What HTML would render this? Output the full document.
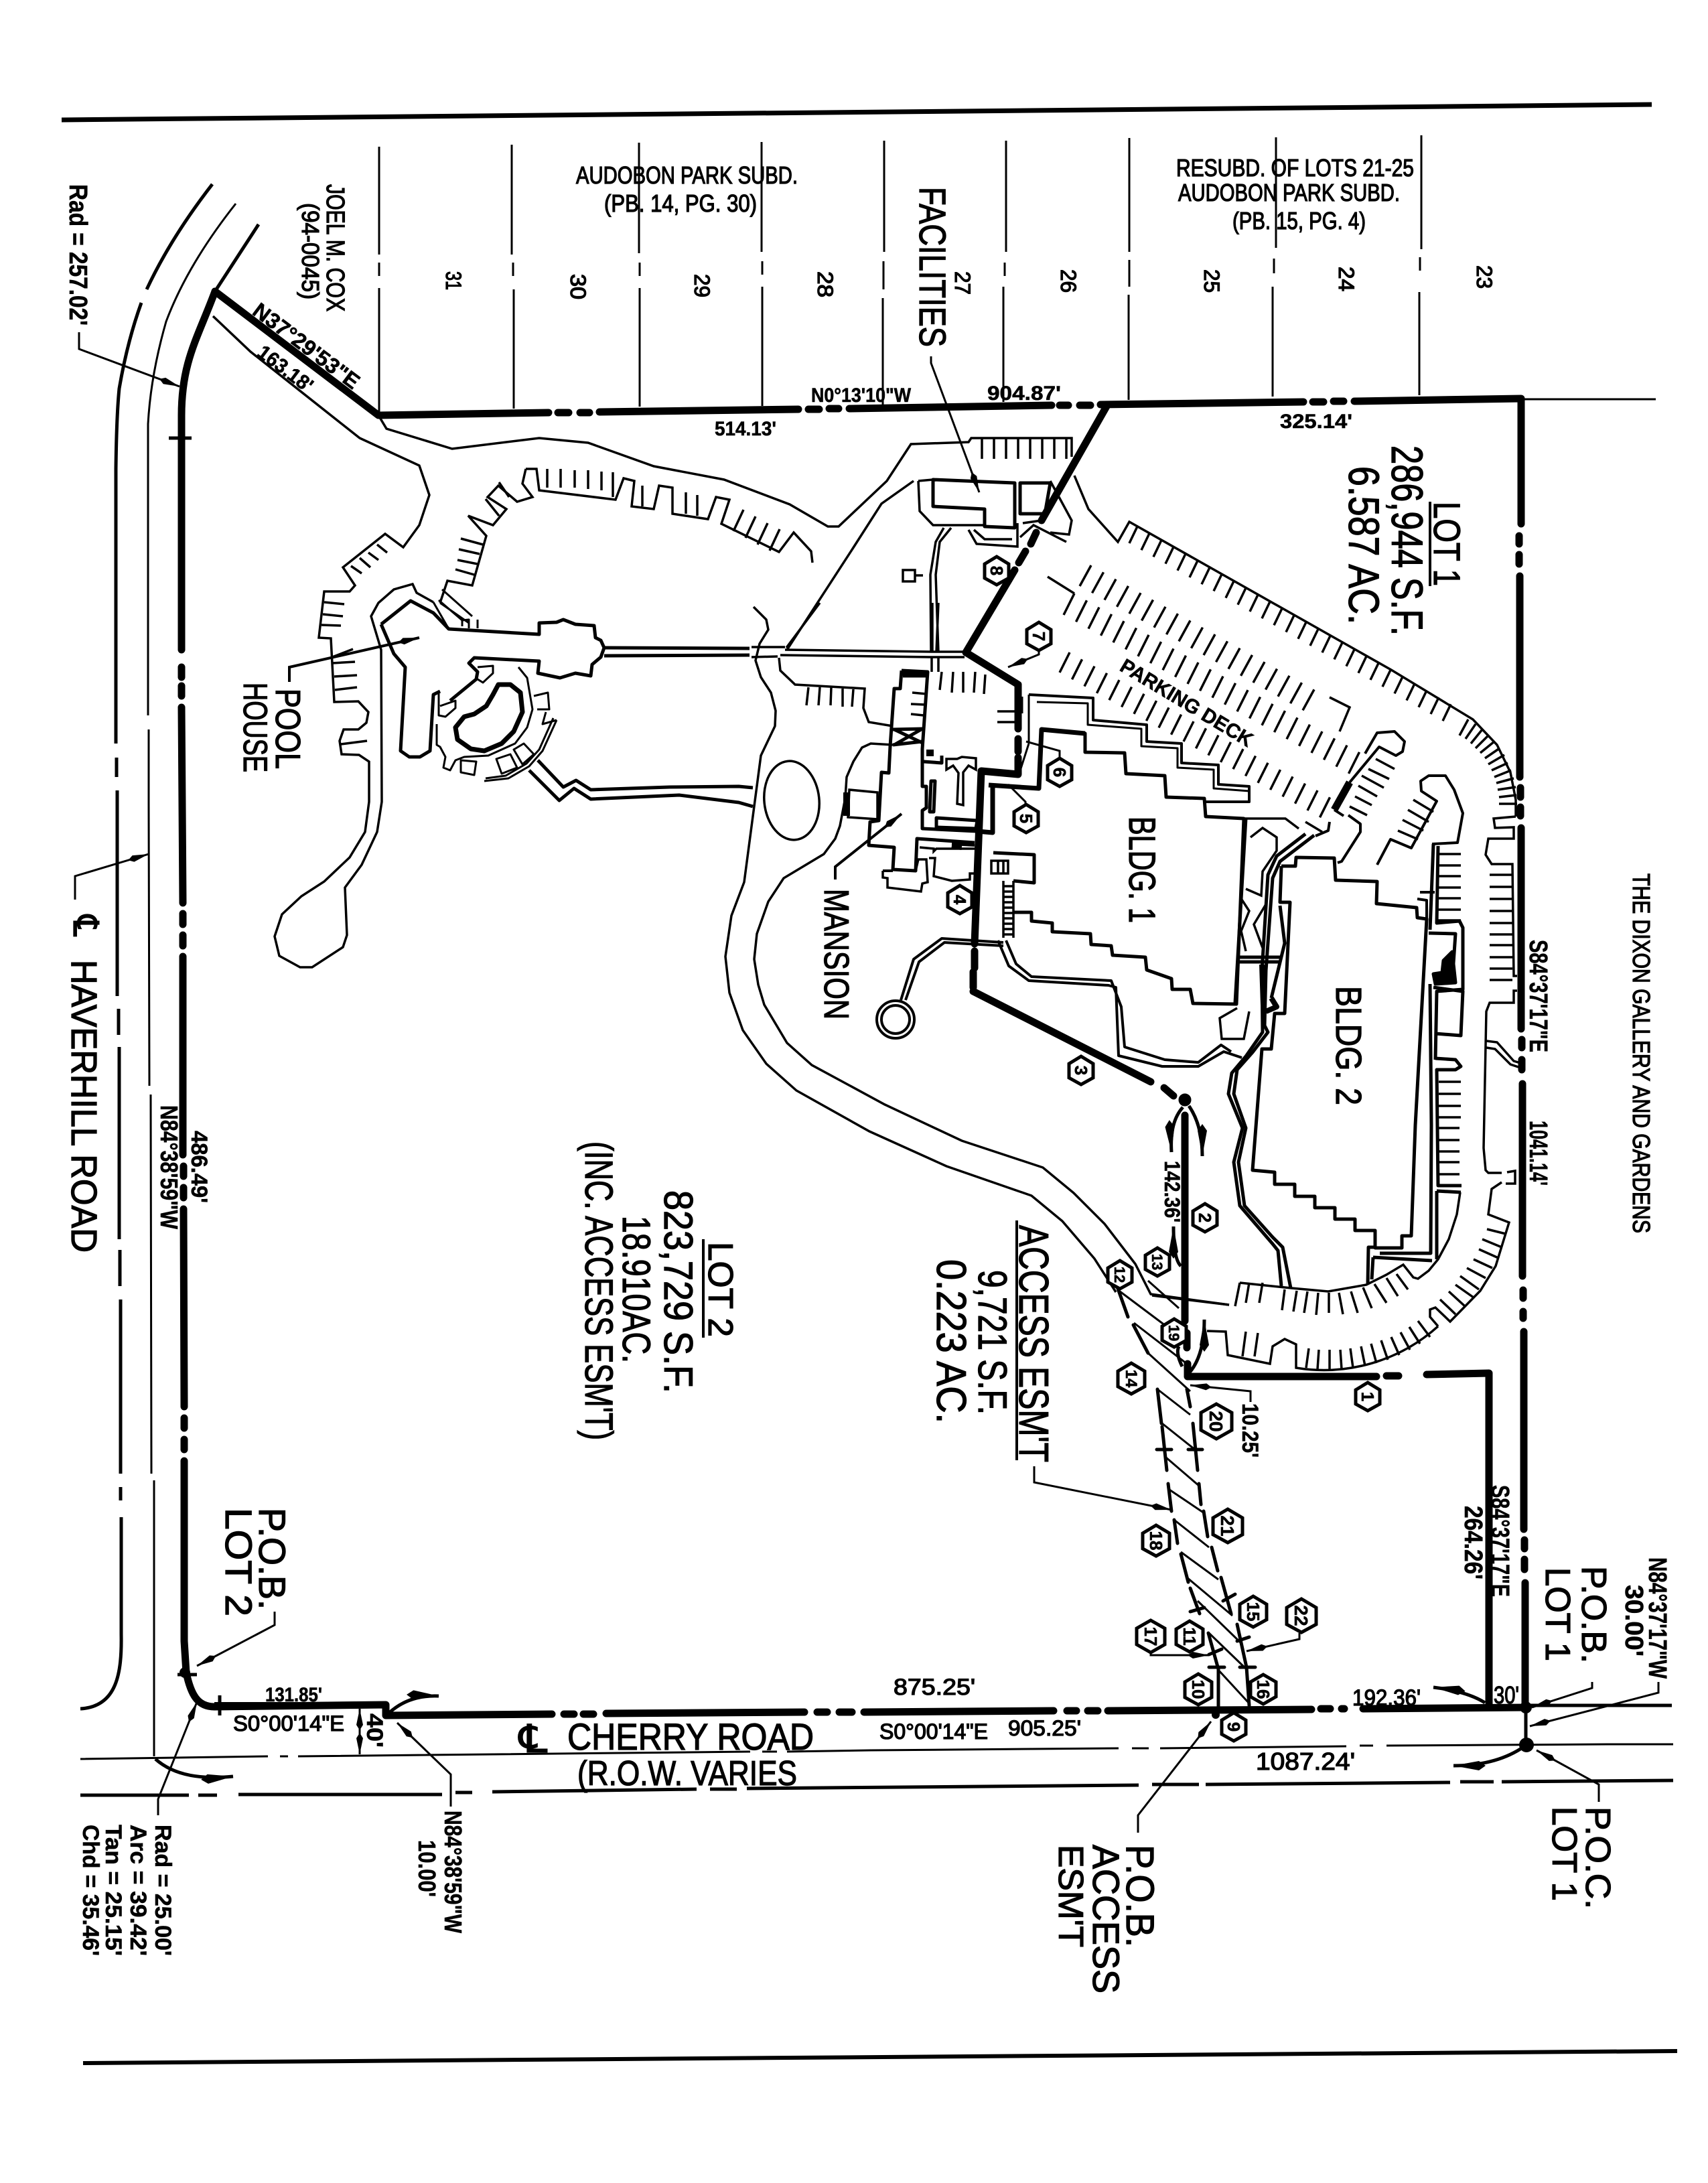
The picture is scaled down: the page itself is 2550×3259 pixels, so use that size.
<!DOCTYPE html>
<html><head><meta charset="utf-8"><title>Site Plan</title>
<style>
html,body{margin:0;padding:0;background:#fff}
svg{display:block}
text{font-family:"Liberation Sans","DejaVu Sans",sans-serif;fill:#000;stroke:#000;stroke-width:1.3}
.b{font-weight:bold;stroke-width:.6}
</style></head><body>
<svg xmlns="http://www.w3.org/2000/svg" width="2550" height="3259" viewBox="0 0 2550 3259">
<defs>
<marker id="a" markerUnits="userSpaceOnUse" markerWidth="34" markerHeight="14" refX="32" refY="7" orient="auto"><path d="M0 7L8 2L32 7L8 12Z" fill="#000" stroke="none"/></marker>
<marker id="c" markerUnits="userSpaceOnUse" markerWidth="50" markerHeight="20" refX="48" refY="10" orient="auto"><path d="M0 10L10 3L48 10L10 17Z" fill="#000" stroke="none"/></marker>
</defs>
<rect width="2550" height="3259" fill="#fff"/>

<!-- frame rules -->
<g fill="none" stroke="#000">
<path d="M92 179L2466 156" stroke-width="7"/>
<path d="M124 3080L2504 3062" stroke-width="6"/>
</g>

<!-- neighbouring lot lines -->
<g fill="none" stroke="#000" stroke-width="3">
<path d="M566 219V380M566 392V412M566 430V616"/>
<path d="M764 216V380M766 392V412M767 432V610"/>
<path d="M954 213V378M955 392V412M955 430V607"/>
<path d="M1137 212V376M1138 390V410M1138 428V606"/>
<path d="M1320 210V376M1319 390V432M1318 445V605"/>
<path d="M1502 210V376M1500 392V412M1498 428V600"/>
<path d="M1686 206V376M1686 388V428M1685 440V597"/>
<path d="M1905 205V370M1902 386V408M1900 428V592"/>
<path d="M2122 202V372M2120 384V404M2119 436V590"/>
<path d="M2275 596H2472"/>
</g>

<!-- road lines -->
<g fill="none" stroke="#000">
<path stroke-width="5" d="M317 275Q255 355 219 432M211 452Q190 510 178 580Q174 620 173 700V1110M174 1131V1160M175 1180V1487M177 1506V1545M178 1563V1850M179 1866V1920M180 1940V2200M180 2220V2240M181 2265V2440C182 2497 175 2548 120 2551"/>
<path stroke-width="3" d="M352 304Q280 395 248 480Q225 560 221 633V1068M222 1089V1200L223 1621M225 1634L226 2200M230 2210V2622"/>
<path stroke-width="5" d="M386 335L321 435"/>
<path stroke-width="3" d="M120 2626L400 2622M418 2622H430M445 2622L1120 2615M1138 2615H1160M1175 2615L1300 2613L1670 2610M1690 2610H1715M1732 2610L2010 2607M2030 2606H2050M2070 2606L2400 2604H2498"/>
<path stroke-width="5" d="M120 2680H282M296 2680H324M356 2679H660M680 2676H705M735 2675L1040 2671M1060 2671H1100M1115 2670L1700 2665M1720 2664H1790M1800 2664L2165 2661M2180 2660H2230M2242 2660L2498 2658"/>
<path stroke-width="5" d="M2280 2546H2496"/>
</g>

<!-- thin drive / site lines -->
<g fill="none" stroke="#000" stroke-width="3.5">
<path d="M318 472L374 525L537 654L626 695L641 739L626 784L602 817L575 797L512 847L530 874L522 883L484 883L476 952L494 953L499 1048L535 1047L550 1063L547 1079L535 1089L513 1089L507 1106L510 1126L536 1127L551 1137V1197L545 1242L522 1280L484 1316L450 1338L421 1365L410 1398L417 1427L448 1444H466L512 1414L518 1396L515 1325L540 1291L563 1242L570 1197L569 970L554 920L565 900L588 880L616 872L622 885L647 899"/>
<path d="M565 620L577 640L675 670L805 654L878 661L976 696L1081 716L1179 753L1236 786H1252L1324 718L1360 663L1446 660L1450 654H1600V682"/>
<path d="M1175 970L1275 816L1316 752L1364 718"/>
<path d="M785 700H801L805 732L919 746L931 714L947 718L943 756L976 760L984 725L1004 728V767L1057 775L1069 742L1089 746L1077 782L1163 824L1185 795L1211 823L1213 840"/>
<path d="M785 700L780 722L795 742L772 749L744 725L728 742L756 760L736 784L699 770L726 800L705 874L668 867L657 900"/>
<path d="M817 700V728M837 700V728M858 702V728M878 702V730M898 704V732M915 705V742M959 725V756M1024 735V767M1041 739V770M1095 793L1110 761M1113 803L1128 771M1131 813L1146 781M1149 822L1164 790"/>
<path d="M688 804L721 813M685 820L716 827M683 836L713 842M680 850L708 858M524 845L540 856M537 833L553 847M550 825L565 836M563 813L578 825M484 899L514 902M482 917L512 920M480 933L509 934M496 990L530 988M499 1010L533 1008M500 1030L533 1026M509 1111L548 1106M496 981L527 969"/>
<path d="M760 742L745 720M725 745L745 770"/>
<path d="M1172 970L1392 973H1440M1165 978L1390 981H1440M1122 966L1172 966M1122 981L1161 980M1392 900V973M1401 900L1398 973M1391 982V1003M1401 982V1003M1390 974L1389 858L1397 809L1409 788M1401 974L1397 858L1403 809L1420 788"/>
<path d="M1224 900L1174 967M1125 906L1144 925L1147 940L1134 961L1128 986L1136 1011L1151 1034L1158 1061L1157 1084L1136 1128L1111 1317L1092 1367L1083 1428L1089 1482L1109 1538L1144 1588L1189 1628L1298 1689L1413 1741L1540 1785L1586 1823L1634 1879L1666 1929"/>
<path d="M1163 982L1165 1001L1187 1022L1291 1028L1289 1057L1297 1078L1333 1084"/>
<path d="M1333 1112L1300 1110L1287 1116L1274 1137L1264 1160L1262 1191L1254 1233L1247 1252L1230 1275L1170 1311L1147 1346L1130 1394L1126 1432L1132 1470L1141 1500L1175 1557L1212 1590L1321 1649L1436 1703L1557 1743L1603 1781L1649 1827L1695 1887L1718 1932L1835 1948"/>
<ellipse cx="1182" cy="1195" rx="41" ry="59" transform="rotate(-6 1182 1195)"/>
<path d="M1207 1026L1204 1053M1224 1026L1222 1053M1241 1026L1240 1053M1258 1028V1055M1274 1029L1272 1055M1406 1003L1403 1030M1423 1003L1421 1034M1438 1003V1034M1456 1003L1454 1034M1471 1007L1469 1036M1362 1034L1383 1036M1360 1051L1381 1052M1360 1066L1379 1068M1489 1062H1518M1489 1078H1518"/>
<path d="M1413 1133H1429L1436 1130L1457 1132V1149L1446 1143L1438 1153V1202L1429 1200L1431 1154L1423 1143L1413 1149Z"/>
<path d="M1268 1179L1310 1183V1223L1266 1220Z"/>
<path d="M1373 1265L1394 1267V1271L1398 1267L1455 1267M1318 1300V1310L1325 1311V1325L1375 1331L1377 1319L1385 1317L1383 1283H1371L1367 1300M1387 1281H1396L1394 1308L1421 1315L1448 1313V1304H1455M1480 1285H1505V1304H1480ZM1490 1285V1304M1498 1285V1304"/>
<path d="M1498 1315V1400M1513 1315V1400M1498 1323H1513M1498 1331H1513M1498 1339H1513M1498 1347H1513M1498 1355H1513M1498 1363H1513M1498 1371H1513M1498 1379H1513M1498 1387H1513M1498 1395H1513"/>
<!-- facilities -->
<path d="M1466 654v31m18-31v31m18-31v31m18-31v31m18-31v31m18-31v31m18-31v31m18-31v31"/>
<path d="M1371 718L1393 716M1371 718L1373 763L1393 784H1470M1568 718L1600 777L1596 798L1568 795M1446 791L1458 812L1519 816V781M1454 791L1470 805H1511M1527 781L1555 777M1523 802L1543 784L1592 809M1348 851H1366V868H1348ZM1366 859H1378"/>
<path d="M1604 710L1625 760L1669 809L1686 779L2077 1000L2199 1074L2235 1112L2255 1153L2263 1194V1219"/>
<path d="M1698 786l-12 25m30-14.8l-12 25m30-14.8l-12 25m30-14.8l-12 25m30-14.8l-12 25m30-14.8l-12 25m30-14.8l-12 25m30-14.8l-12 25m30-14.8l-12 25m30-14.8l-12 25m30-14.8l-12 25m30-14.8l-12 25m30-14.8l-12 25m30-14.8l-12 25m30-14.8l-12 25m30-14.8l-12 25m30-14.8l-12 25m30-14.8l-12 25m30-14.8l-12 25m30-14.8l-12 25m30-14.8l-12 25m30-14.8l-12 25m30-14.8l-12 25m30-14.8l-12 25m30-14.8l-12 25m30-14.8l-12 25m30-14.8l-12 25"/>
<path d="M2179 1098L2192 1074M2188 1103L2203 1081M2196 1110L2213 1089M2203 1117L2223 1097M2210 1124L2231 1107M2217 1132L2239 1117M2222 1141L2246 1127M2227 1150L2251 1139M2231 1160L2256 1150M2234 1169L2260 1162M2236 1179L2263 1175M2238 1190L2264 1187M2238 1200L2265 1200"/>
<path d="M1629 844l-17 31m35.5-20.7l-17 31m35.5-20.7l-17 31m35.5-20.7l-17 31m35.5-20.7l-17 31m35.5-20.7l-17 31m35.5-20.7l-17 31m35.5-20.7l-17 31m35.5-20.7l-17 31m35.5-20.7l-17 31m35.5-20.7l-17 31m35.5-20.7l-17 31m35.5-20.7l-17 31m35.5-20.7l-17 31m35.5-20.7l-17 31m35.5-20.7l-17 31m35.5-20.7l-17 31m35.5-20.7l-17 31m35.5-20.7l-17 31"/>
<path d="M1604 886l-16 32m34.5-21.7l-16 32m34.5-21.7l-16 32m34.5-21.7l-16 32m34.5-21.7l-16 32m34.5-21.7l-16 32m34.5-21.7l-16 32m34.5-21.7l-16 32m34.5-21.7l-16 32m34.5-21.7l-16 32m34.5-21.7l-16 32m34.5-21.7l-16 32m34.5-21.7l-16 32m34.5-21.7l-16 32m34.5-21.7l-16 32m34.5-21.7l-16 32m34.5-21.7l-16 32m34.5-21.7l-16 32m34.5-21.7l-16 32m34.5-21.7l-16 32m34.5-21.7l-16 32m34.5-21.7l-16 32m34.5-21.7l-16 32m34.5-21.7l-16 32"/>
<path d="M1597 974l-15 30m33.5-19.7l-15 30m33.5-19.7l-15 30m33.5-19.7l-15 30m33.5-19.7l-15 30m33.5-19.7l-15 30m33.5-19.7l-15 30m33.5-19.7l-15 30m33.5-19.7l-15 30m33.5-19.7l-15 30m33.5-19.7l-15 30m33.5-19.7l-15 30m33.5-19.7l-15 30m33.5-19.7l-15 30m33.5-19.7l-15 30m33.5-19.7l-15 30m33.5-19.7l-15 30m33.5-19.7l-15 30m33.5-19.7l-15 30m33.5-19.7l-15 30m33.5-19.7l-15 30m33.5-19.7l-15 30"/>
<path d="M1564 861L1604 886M1985 1041L2015 1056L2000 1092"/>
<!-- east parking -->
<path d="M2145 1275H2181M2145 1292H2181M2145 1308H2181M2145 1325H2181M2145 1341H2181M2145 1358H2181M2145 1374H2181M2148 1615H2181M2148 1633H2181M2148 1651H2181M2148 1668H2181M2147 1684H2179M2147 1702H2179M2147 1719H2179M2147 1735H2179M2147 1753H2179"/>
<path d="M2224 1306H2258M2224 1324H2258M2224 1342H2258M2224 1360H2258M2224 1378H2258M2224 1395H2258M2224 1411H2258M2224 1429H2258M2224 1446H2258M2224 1463H2258"/>
<path d="M2263 1219L2230 1222L2232 1236L2260 1235V1252H2222L2218 1276L2227 1290H2258L2260 1457H2265M2265 1479H2260V1497H2224L2219 1510L2215 1714L2218 1747L2222 1751H2242M2250 1750L2262 1748V1767H2248M2242 1765L2227 1775L2222 1813L2253 1825L2233 1890L2210 1927L2165 1973L2143 1952L2135 1955V1966L2147 1980"/>
<path d="M2219 1554L2235 1556L2260 1584L2270 1587M2219 1564L2232 1566L2255 1589L2270 1594"/>
<path d="M2015 1204L2041 1217M2023 1189L2048 1202M2028 1173L2056 1189M2033 1158L2066 1176M2043 1148L2074 1163M2054 1133L2082 1148M2110 1194L2140 1212M2102 1209L2133 1227M2094 1224L2125 1240M2087 1240L2117 1253"/>
<!-- south arcs -->
<path d="M2147 1980A255 255 0 0 1 1935 2042V2007L1918 1999L1900 2010L1896 2036L1833 2023L1830 1988L1802 1987"/>
<path d="M1851 1915L1844 1950M1851 1915L1928 1923L1983 1928L2040 1918L2070 1903L2095 1888L2110 1907L2117 1909L2133 1897L2147 1880L2163 1850L2175 1813L2180 1780"/>
<path d="M2248 1842L2220 1835M2242 1862L2213 1850M2237 1878L2208 1865M2228 1893L2200 1880M2218 1908L2190 1893M2208 1925L2180 1905M2200 1937L2173 1918M2187 1950L2163 1928M2173 1962L2150 1940M2117 1972L2135 1996M2104 1981L2120 2006M2091 1989L2105 2015M2077 1996L2089 2023M2062 2001L2072 2030M2047 2006L2055 2035M2032 2010L2038 2039M2016 2013L2020 2042M2001 2015L2003 2044M1985 2015V2045M1969 2015L1967 2044M1954 2013L1950 2042M1860 1988L1855 2025M1878 1990L1873 2025"/>
<path d="M2102 1925L2085 1902M2087 1935L2070 1908M2070 1945L2052 1917M2048 1953L2035 1922M2027 1960L2017 1928M2005 1962L1999 1930M1984 1960V1930M1965 1963L1968 1930M1947 1960L1952 1928M1931 1958L1936 1927M1914 1956L1918 1925M1885 1915L1880 1945M1865 1915L1860 1945"/>
<path d="M1720 1934L1835 1948"/>
<!-- pond / bridge thin -->
<path d="M1867 1250L1885 1236L1906 1250V1270L1885 1301L1883 1337L1860 1327M1847 1505L1821 1520L1824 1551H1857L1865 1510"/>
<path d="M1857 1222H1919L1939 1237M1949 1227L1974 1242"/>
<path d="M1852 1340L1865 1360L1853 1390L1860 1420M1890 1350L1872 1380L1885 1415"/>
</g>

<!-- medium building lines -->
<g fill="none" stroke="#000" stroke-width="5" stroke-linejoin="round">
<path d="M569 932L613 897L647 915L670 939L805 947V930L831 929L841 925L859 932L887 934L889 952L897 956L902 967L897 981L884 992L882 1009L859 1005L836 1012L803 1005L805 987L708 982L700 990L713 1003L711 1014L672 1046M657 1032L647 1037L642 1121L627 1130H611L598 1121L605 996L588 976L569 932"/>
<path stroke-width="3" d="M713 996L736 994V1005L721 1019L713 1014M657 1054L680 1046V1057L665 1070L655 1068V1032M774 996L787 1012L795 1059L787 1086L769 1110L729 1128L693 1130L680 1135L672 1150L662 1146L665 1130L657 1115L652 1112V1081"/>
<path stroke-width="7" d="M744 1022H762L777 1034L780 1063L767 1092L749 1110L723 1121L703 1118L683 1104L680 1086L693 1070L708 1066L726 1054L736 1037Z"/>
<path stroke-width="3" d="M831 1075L810 1121L790 1144L759 1162L723 1166M826 1072L805 1119L786 1140L755 1158L725 1162M797 1039L818 1034L820 1059L802 1059M815 1063L810 1081L831 1075M688 1135L711 1137L708 1157L688 1153ZM741 1133L762 1126L772 1146L749 1155ZM767 1119L782 1110L797 1126L780 1141Z"/>
<path d="M803 1135L841 1175L860 1165L882 1179L1000 1175L1103 1174L1124 1176M790 1150L835 1195L857 1177L882 1193L1014 1187L1103 1198L1124 1204M902 967L1119 968M902 979L1119 978"/>
<path stroke-width="3" d="M647 899L670 939M657 900L700 930M655 896L690 926L700 925V938M690 926V935M713 925V938M660 880L705 920"/>
<path d="M1346 1001L1385 1003L1377 1118V1130L1377 1174H1383V1206L1377 1210V1237L1459 1241M1346 1001L1344 1028H1335L1329 1114L1327 1154L1316 1153L1312 1225L1299 1227L1297 1262L1335 1265L1333 1298L1367 1300L1369 1252L1455 1258"/>
<path d="M1348 1009L1385 1009M1333 1089L1379 1088M1333 1112L1377 1107M1335 1089L1377 1109M1335 1112L1377 1088"/>
<path d="M1379 1137L1406 1139V1128M1390 1166H1396L1394 1212H1388ZM1398 1221L1459 1225L1457 1237L1398 1235Z"/>
<path stroke-width="10" d="M1264 1183V1218M1383 1124H1394M1421 1262L1436 1264M1348 1005L1385 1006"/>
<path stroke-width="4" d="M1318 1300H1333M1421 1260L1455 1262"/>
<path stroke-width="7" d="M1482 1174L1482 1243L1459 1241M1476 1172L1551 1177L1555 1089L1620 1095"/>
<!-- Bldg 1 -->
<path d="M1555 1089L1620 1095V1123L1679 1124L1681 1155L1739 1158L1741 1190L1798 1192L1800 1219L1857 1222L1846 1499L1781 1498L1777 1477H1750L1749 1461L1712 1448L1710 1429L1661 1426L1659 1412L1629 1410L1628 1394L1571 1391V1378L1540 1375V1362L1513 1362"/>
<path d="M1513 1315L1544 1318V1276L1483 1273"/>
<path stroke-width="4" d="M1536 1037L1632 1042V1075L1712 1082V1107L1764 1110V1139L1819 1142V1171L1865 1174V1197H1800"/>
<path stroke-width="3" d="M1548 1048L1624 1050V1082L1704 1088V1114L1758 1117V1146L1812 1149V1177L1865 1181"/>
<path stroke-width="3" d="M1536 1037L1536 1110M1526 1040L1526 1065M1520 1160L1536 1110"/>
<circle cx="1337" cy="1522" r="28" stroke-width="4"/>
<circle cx="1337" cy="1522" r="21" stroke-width="4"/>
<path stroke-width="4" d="M1345 1493L1364 1432L1406 1401L1498 1407M1352 1493L1372 1436L1410 1407L1498 1412"/>
<path stroke-width="4" d="M1490 1404L1506 1442L1536 1464L1655 1471L1666 1474L1670 1576L1735 1592H1789L1827 1570L1854 1579M1502 1404L1517 1439L1540 1458L1659 1464L1674 1503L1679 1563L1739 1582L1789 1586L1823 1560L1838 1570"/>
<!-- main road -->
<path d="M1949 1245L1906 1278L1893 1306L1884 1449L1885 1541L1860 1577L1839 1602L1834 1633L1855 1684L1842 1735L1851 1800L1900 1857L1908 1867L1913 1920"/>
<path d="M1962 1247L1911 1286L1900 1311L1890 1449L1888 1531L1893 1541L1870 1571L1847 1597L1842 1633L1860 1684L1849 1735L1858 1800L1900 1847L1915 1862L1927 1923"/>
<!-- Bldg 2 -->
<path d="M1913 1293H1934L1935 1280L1992 1281L1994 1314L2056 1316L2055 1349L2115 1355L2116 1370L2130 1372L2113 1680L2107 1845H2093V1863H2053V1837H2023V1820H1993V1803H1963V1786H1933V1768H1903V1750L1870 1747L1884 1566H1898L1903 1513H1918L1926 1347H1911L1913 1293"/>
<path d="M1860 1222L1844 1497M1849 1429H1913M1849 1436H1913M1911 1352L1918 1408L1898 1490"/>
<path stroke-width="8" d="M1884 1440L1886 1500M1898 1490L1906 1503L1890 1510"/>
<path d="M2133 1393L2173 1394L2168 1467M2135 1469L2137 1680L2136 1871H2060M2053 1862H2043L2042 1917M2050 1877L2048 1910M2050 1877L2138 1882M2145 1778V1880M2145 1778L2181 1780M2140 1260L2135 1388M2147 1263L2145 1378L2179 1375L2184 1385V1477L2145 1480L2143 1582M2140 1474L2184 1480L2181 1546L2143 1543M2143 1580L2173 1582L2181 1592L2173 1597H2145L2147 1770H2182"/>
<path stroke-width="4" d="M2138 1260L2176 1258L2184 1214L2171 1179L2158 1158H2133L2121 1166L2122 1181L2145 1196L2107 1266L2076 1253L2056 1291M2120 1332H2142M2116 1342L2130 1344V1372"/>
<path d="M2168 1421L2155 1434L2153 1452L2140 1454L2143 1469L2173 1467Z" fill="#000"/>
<path stroke-width="4" d="M2038 1125L2056 1094L2082 1092L2097 1107L2094 1122L2084 1128L2059 1115L2015 1168M2013 1217L2031 1230V1242L2003 1286L1997 1288M1985 1227L1983 1240L1964 1248M1992 1209L2006 1218"/>
<path stroke-width="11" d="M2015 1168L1992 1209"/>
<!-- Facilities building -->
<path d="M1393 716L1515 721V788L1470 786V760L1393 756ZM1523 721H1568L1560 767H1523Z"/>
</g>

<!-- thick boundaries -->
<g fill="none" stroke="#000" stroke-width="11" stroke-linecap="round" stroke-linejoin="round">
<path d="M321 435L565 620L819 616M833 616H849M866 616H880M895 615L1192 611M1207 611H1223M1238 610H1252M1268 610L1570 605M1582 605H1595M1612 605H1628M1643 604L1946 600M1960 600H1976M1991 599H2006M2022 599L2271 595V782"/>
<path d="M2268 800V812M2268 828V842M2269 860V1160M2270 1176V1190M2270 1205V1218M2271 1236V1536M2272 1552V1564M2272 1582V1597M2273 1618V1905M2274 1926V1938M2274 1958V1968M2275 1988V2283M2276 2299V2312M2276 2328V2343M2277 2363V2549"/>
<path d="M321 435C295 505 271 540 271 620V970M271 996V1011M271 1024V1039M271 1056L273 1348M273 1364V1380M273 1396V1412M273 1428V1724M274 1741V1756M274 1773V1788M274 1805L275 2100M275 2117V2132M275 2149V2164M275 2181V2450L278 2497"/>
<path d="M278 2497C285 2530 295 2548 320 2548L576 2545V2561M576 2561L824 2559M842 2559H857M871 2559H886M905 2558L1201 2556M1220 2556H1235M1253 2556H1272M1290 2556L1573 2554M1593 2554H1607M1624 2554H1639M1654 2554L1958 2552M1972 2551H1986M2003 2551H2007M2035 2551L2279 2549"/>
<path d="M1774 2055H2055M2070 2054H2088M2130 2052L2223 2050V2549"/>
<path d="M1653 605L1555 777M1547 795L1539 812M1531 823L1521 840M1515 851L1442 974L1520 1022V1088M1520 1103V1122M1520 1131V1156L1465 1151L1455 1409M1455 1420V1445M1453 1451V1474"/>
<path d="M1453 1480L1718 1615M1738 1624L1752 1636"/>
<path d="M1769 1665V1972M1772 1990V2012M1773 2036V2055"/>
<circle cx="1769" cy="1642" r="4"/>
</g>
<g fill="none" stroke="#000" stroke-width="5">
<path stroke-width="8" d="M576 2545H320"/>
<path d="M252 654H286M265 2500H294M328 2531V2561M2278 2552V2603"/>
</g>
<circle cx="2278" cy="2549" r="9"/><circle cx="2279" cy="2605" r="11"/><circle cx="1815" cy="2560" r="6"/><circle cx="1769" cy="1642" r="8"/><circle cx="276" cy="2497" r="8"/>

<!-- easement -->
<g fill="none" stroke="#000" stroke-width="5" stroke-linecap="round">
<path d="M1668 1921L1684 1966M1692 1978L1714 2020M1728 2074L1734 2125M1735 2130L1742 2195M1744 2215L1749 2256M1753 2269L1758 2304M1763 2320L1774 2362M1777 2371L1791 2409M1804 2438L1819 2492L1819 2553"/>
<path d="M1772 2074L1777 2100M1781 2125L1788 2195M1790 2215L1793 2246M1797 2256L1803 2294M1809 2310L1818 2345M1823 2355L1838 2409M1847 2425L1861 2489L1865 2546"/>
<path d="M1727 2164H1749M1774 2164H1795M1826 2390L1844 2380M1777 2406L1798 2400M1847 2450L1865 2444M1805 2489H1828M1851 2489H1874M1805 2470L1824 2462"/>
</g>
<g fill="none" stroke="#000" stroke-width="3">
<path d="M1714 1912L1760 1953M1672 1928L1756 1991M1693 1975L1772 2036M1714 2020L1777 2077M1728 2074L1777 2112M1735 2125L1784 2164M1741 2176L1790 2218M1746 2224L1798 2259M1753 2269L1805 2310M1763 2317L1819 2358M1772 2355L1840 2412M1788 2390L1854 2454M1805 2438L1861 2492M1818 2492L1865 2543"/>
</g>

<!-- leaders -->
<g fill="none" stroke="#000" stroke-width="3">
<path marker-end="url(#a)" d="M118 496V521L268 577"/>
<path marker-end="url(#a)" d="M112 1343V1308L222 1275"/>
<path marker-end="url(#a)" d="M410 2406V2426L294 2487"/>
<path marker-end="url(#a)" d="M236 2710V2686L294 2541"/>
<path marker-end="url(#a)" d="M673 2697V2649L593 2572"/>
<path marker-end="url(#a)" d="M1699 2736V2710L1808 2570"/>
<path marker-end="url(#a)" d="M2387 2690V2664L2294 2613"/>
<path marker-end="url(#a)" d="M2377 2511V2520L2287 2549"/>
<path marker-end="url(#a)" d="M2476 2511V2527L2284 2577"/>
<path marker-end="url(#a)" d="M1867 2093V2077L1777 2068"/>
<path marker-end="url(#a)" d="M1544 2189V2213L1749 2254"/>
<path marker-end="url(#a)" d="M1940 2438V2447L1861 2465"/>
<path marker-end="url(#a)" d="M1718 2463V2471H1805"/>
<path marker-end="url(#a)" d="M1551 964V977L1505 996"/>
<path marker-end="url(#a)" d="M1390 532V542L1462 735"/>
<path stroke-width="4" marker-end="url(#a)" d="M432 1018V996L626 952"/>
<path stroke-width="4" marker-end="url(#a)" d="M1247 1313V1294L1346 1215"/>
<path d="M1582 1131V1121L1532 1107M1531 1202V1197L1505 1171"/>
<path marker-end="url(#a)" d="M537 2585V2551"/><path marker-end="url(#a)" d="M537 2585V2619"/>
<path stroke-width="5" marker-end="url(#c)" d="M580 2558Q610 2530 655 2532"/>
<path stroke-width="5" marker-end="url(#c)" d="M232 2626Q270 2660 348 2652"/>
<path stroke-width="5" marker-end="url(#c)" d="M2270 2611Q2230 2636 2170 2636"/>
<path stroke-width="5" marker-end="url(#c)" d="M2217 2542Q2190 2525 2140 2519"/>
<path stroke-width="5" marker-end="url(#c)" d="M1766 1653Q1746 1675 1749 1720"/>
<path stroke-width="5" marker-end="url(#c)" d="M1775 1651Q1795 1680 1795 1726"/>
<path stroke-width="5" marker-end="url(#c)" d="M1763 1890Q1752 1880 1752 1831"/>
<path stroke-width="5" marker-end="url(#c)" d="M1770 2055Q1798 2030 1798 1970"/>
<path stroke-width="5" d="M1765 2040Q1755 2020 1760 2010"/>
</g>

<!-- hexagon callouts -->
<g fill="#fff" stroke="#000" stroke-width="5">
<polygon points="1488,831 1506,842 1506,863 1488,873 1470,863 1470,842"/>
<polygon points="1551,929 1569,940 1569,961 1551,971 1533,961 1533,940"/>
<polygon points="1582,1132 1600,1143 1600,1164 1582,1174 1564,1164 1564,1143"/>
<polygon points="1532,1201 1550,1212 1550,1233 1532,1243 1514,1233 1514,1212"/>
<polygon points="1433,1322 1451,1333 1451,1354 1433,1364 1415,1354 1415,1333"/>
<polygon points="1614,1577 1632,1588 1632,1609 1614,1619 1596,1609 1596,1588"/>
<polygon points="1799,1797 1817,1808 1817,1829 1799,1839 1781,1829 1781,1808"/>
<polygon points="2042,2064 2060,2075 2060,2096 2042,2106 2024,2096 2024,2075"/>
<polygon points="1728,1863 1746,1874 1746,1895 1728,1905 1710,1895 1710,1874"/>
<polygon points="1672,1882 1690,1893 1690,1914 1672,1924 1654,1914 1654,1893"/>
<polygon points="1753,1969 1771,1980 1771,2001 1753,2011 1735,2001 1735,1980"/>
<polygon points="1689,2035 1709,2047 1709,2070 1689,2081 1669,2070 1669,2047"/>
<polygon points="1816,2096 1839,2109 1839,2135 1816,2148 1793,2135 1793,2109"/>
<polygon points="1833,2253 1855,2266 1855,2291 1833,2303 1811,2291 1811,2266"/>
<polygon points="1726,2277 1746,2289 1746,2312 1726,2323 1706,2312 1706,2289"/>
<polygon points="1871,2383 1891,2395 1891,2418 1871,2429 1851,2418 1851,2395"/>
<polygon points="1943,2387 1965,2400 1965,2425 1943,2437 1921,2425 1921,2400"/>
<polygon points="1718,2419 1739,2431 1739,2455 1718,2467 1697,2455 1697,2431"/>
<polygon points="1776,2420 1796,2432 1796,2455 1776,2466 1756,2455 1756,2432"/>
<polygon points="1886,2500 1905,2511 1905,2533 1886,2544 1867,2533 1867,2511"/>
<polygon points="1789,2499 1809,2511 1809,2534 1789,2545 1769,2534 1769,2511"/>
<polygon points="1842,2557 1860,2568 1860,2589 1842,2599 1824,2589 1824,2568"/>
</g>
<g>
<text class="b" text-anchor="middle" font-size="26" transform="translate(1479,852) rotate(90)">8</text>
<text class="b" text-anchor="middle" font-size="26" transform="translate(1542,950) rotate(90)">7</text>
<text class="b" text-anchor="middle" font-size="26" transform="translate(1573,1153) rotate(90)">6</text>
<text class="b" text-anchor="middle" font-size="26" transform="translate(1523,1222) rotate(90)">5</text>
<text class="b" text-anchor="middle" font-size="26" transform="translate(1424,1343) rotate(90)">4</text>
<text class="b" text-anchor="middle" font-size="26" transform="translate(1605,1598) rotate(90)">3</text>
<text class="b" text-anchor="middle" font-size="26" transform="translate(1790,1818) rotate(90)">2</text>
<text class="b" text-anchor="middle" font-size="26" transform="translate(2033,2085) rotate(90)">1</text>
<text class="b" text-anchor="middle" font-size="22" transform="translate(1720,1884) rotate(90)">13</text>
<text class="b" text-anchor="middle" font-size="22" transform="translate(1664,1903) rotate(90)">12</text>
<text class="b" text-anchor="middle" font-size="22" transform="translate(1745,1990) rotate(90)">19</text>
<text class="b" text-anchor="middle" font-size="24" transform="translate(1681,2058) rotate(90)">14</text>
<text class="b" text-anchor="middle" font-size="28" transform="translate(1806,2122) rotate(90)">20</text>
<text class="b" text-anchor="middle" font-size="28" transform="translate(1823,2278) rotate(90)">21</text>
<text class="b" text-anchor="middle" font-size="26" transform="translate(1717,2300) rotate(90)">18</text>
<text class="b" text-anchor="middle" font-size="26" transform="translate(1862,2406) rotate(90)">15</text>
<text class="b" text-anchor="middle" font-size="28" transform="translate(1933,2412) rotate(90)">22</text>
<text class="b" text-anchor="middle" font-size="26" transform="translate(1709,2443) rotate(90)">17</text>
<text class="b" text-anchor="middle" font-size="26" transform="translate(1767,2443) rotate(90)">11</text>
<text class="b" text-anchor="middle" font-size="26" transform="translate(1877,2522) rotate(90)">16</text>
<text class="b" text-anchor="middle" font-size="26" transform="translate(1780,2522) rotate(90)">10</text>
<text class="b" text-anchor="middle" font-size="26" transform="translate(1833,2578) rotate(90)">9</text>
</g>

<!-- underlines -->
<g fill="none" stroke="#000" stroke-width="4">
<path d="M2135 749V875M1050 1850V1997M1518 1822V2180"/>
</g>

<!-- horizontal labels -->
<text x="860" y="274" font-size="36" textLength="331" lengthAdjust="spacingAndGlyphs">AUDOBON PARK SUBD.</text>
<text x="902" y="316" font-size="36" textLength="228" lengthAdjust="spacingAndGlyphs">(PB. 14, PG. 30)</text>
<text x="1756" y="263" font-size="36" textLength="355" lengthAdjust="spacingAndGlyphs">RESUBD. OF LOTS 21-25</text>
<text x="1759" y="300" font-size="36" textLength="331" lengthAdjust="spacingAndGlyphs">AUDOBON PARK SUBD.</text>
<text x="1840" y="342" font-size="36" textLength="199" lengthAdjust="spacingAndGlyphs">(PB. 15, PG. 4)</text>
<text class="b" x="1067" y="650" font-size="30" textLength="92" lengthAdjust="spacingAndGlyphs">514.13'</text>
<text class="b" x="1211" y="600" font-size="30" textLength="149" lengthAdjust="spacingAndGlyphs">N0°13'10"W</text>
<text class="b" x="1474" y="597" font-size="30" textLength="110" lengthAdjust="spacingAndGlyphs">904.87'</text>
<text class="b" x="1911" y="639" font-size="30" textLength="108" lengthAdjust="spacingAndGlyphs">325.14'</text>
<text class="b" font-size="30" textLength="225" lengthAdjust="spacingAndGlyphs" transform="translate(1670,1000) rotate(31)">PARKING DECK</text>
<text x="775" y="2616" font-size="58" font-family="DejaVu Sans" textLength="42" lengthAdjust="spacingAndGlyphs">℄</text>
<text x="847" y="2612" font-size="56" textLength="368" lengthAdjust="spacingAndGlyphs">CHERRY ROAD</text>
<text x="862" y="2665" font-size="52" textLength="328" lengthAdjust="spacingAndGlyphs">(R.O.W. VARIES</text>
<text class="b" x="396" y="2540" font-size="30" textLength="85" lengthAdjust="spacingAndGlyphs">131.85'</text>
<text x="348" y="2584" font-size="32" textLength="166" lengthAdjust="spacingAndGlyphs">S0°00'14"E</text>
<text x="1334" y="2530" font-size="34" textLength="122" lengthAdjust="spacingAndGlyphs">875.25'</text>
<text x="1313" y="2596" font-size="32" textLength="162" lengthAdjust="spacingAndGlyphs">S0°00'14"E</text>
<text x="1505" y="2591" font-size="32" textLength="109" lengthAdjust="spacingAndGlyphs">905.25'</text>
<text x="2019" y="2546" font-size="34" textLength="102" lengthAdjust="spacingAndGlyphs">192.36'</text>
<text x="2230" y="2543" font-size="36" textLength="38" lengthAdjust="spacingAndGlyphs">30'</text>
<text x="1875" y="2642" font-size="36" textLength="148" lengthAdjust="spacingAndGlyphs">1087.24'</text>
<text class="b" font-size="32" textLength="190" lengthAdjust="spacingAndGlyphs" transform="translate(375,468) rotate(37)">N37°29'53"E</text>
<text class="b" font-size="30" textLength="95" lengthAdjust="spacingAndGlyphs" transform="translate(382,530) rotate(37)">163.18'</text>

<!-- rotated labels -->
<text class="b" font-size="38" textLength="211" lengthAdjust="spacingAndGlyphs" transform="translate(104,275) rotate(90)">Rad = 257.02'</text>
<text font-size="38" textLength="190" lengthAdjust="spacingAndGlyphs" transform="translate(488,275) rotate(90)">JOEL M. COX</text>
<text font-size="36" textLength="144" lengthAdjust="spacingAndGlyphs" transform="translate(451,303) rotate(90)">(94-0045)</text>
<text font-size="32" textLength="28" lengthAdjust="spacingAndGlyphs" transform="translate(666,405) rotate(90)">31</text>
<text font-size="32" textLength="38" lengthAdjust="spacingAndGlyphs" transform="translate(852,409) rotate(90)">30</text>
<text font-size="32" textLength="35" lengthAdjust="spacingAndGlyphs" transform="translate(1037,409) rotate(90)">29</text>
<text font-size="32" textLength="39" lengthAdjust="spacingAndGlyphs" transform="translate(1221,405) rotate(90)">28</text>
<text font-size="32" textLength="35" lengthAdjust="spacingAndGlyphs" transform="translate(1426,405) rotate(90)">27</text>
<text font-size="32" textLength="35" lengthAdjust="spacingAndGlyphs" transform="translate(1584,402) rotate(90)">26</text>
<text font-size="32" textLength="35" lengthAdjust="spacingAndGlyphs" transform="translate(1798,402) rotate(90)">25</text>
<text font-size="32" textLength="37" lengthAdjust="spacingAndGlyphs" transform="translate(1999,398) rotate(90)">24</text>
<text font-size="32" textLength="35" lengthAdjust="spacingAndGlyphs" transform="translate(2205,396) rotate(90)">23</text>
<text font-size="56" textLength="239" lengthAdjust="spacingAndGlyphs" transform="translate(1373,279) rotate(90)">FACILITIES</text>
<text font-size="52" textLength="120" lengthAdjust="spacingAndGlyphs" transform="translate(412,1028) rotate(90)">POOL</text>
<text font-size="50" textLength="134" lengthAdjust="spacingAndGlyphs" transform="translate(364,1019) rotate(90)">HOUSE</text>
<text font-size="52" textLength="195" lengthAdjust="spacingAndGlyphs" transform="translate(1231,1327) rotate(90)">MANSION</text>
<text font-size="56" textLength="159" lengthAdjust="spacingAndGlyphs" transform="translate(1686,1219) rotate(90)">BLDG. 1</text>
<text font-size="54" textLength="178" lengthAdjust="spacingAndGlyphs" transform="translate(1995,1472) rotate(90)">BLDG. 2</text>
<text font-size="56" textLength="126" lengthAdjust="spacingAndGlyphs" transform="translate(2141,749) rotate(90)">LOT 1</text>
<text font-size="66" textLength="284" lengthAdjust="spacingAndGlyphs" transform="translate(2078,665) rotate(90)">286,944 S.F.</text>
<text font-size="64" textLength="236" lengthAdjust="spacingAndGlyphs" transform="translate(2014,696) rotate(90)">6.587 AC.</text>
<text font-size="36" textLength="537" lengthAdjust="spacingAndGlyphs" transform="translate(2438,1304) rotate(90)">THE DIXON GALLERY AND GARDENS</text>
<text font-size="52" font-family="DejaVu Sans" textLength="32" lengthAdjust="spacingAndGlyphs" transform="translate(110,1366) rotate(90)">℄</text>
<text font-size="54" textLength="437" lengthAdjust="spacingAndGlyphs" transform="translate(107,1433) rotate(90)">HAVERHILL ROAD</text>
<text class="b" font-size="36" textLength="185" lengthAdjust="spacingAndGlyphs" transform="translate(240,1650) rotate(90)">N84°38'59"W</text>
<text class="b" font-size="34" textLength="108" lengthAdjust="spacingAndGlyphs" transform="translate(286,1688) rotate(90)">486.49'</text>
<text font-size="52" textLength="142" lengthAdjust="spacingAndGlyphs" transform="translate(1058,1854) rotate(90)">LOT 2</text>
<text font-size="60" textLength="303" lengthAdjust="spacingAndGlyphs" transform="translate(992,1777) rotate(90)">823,729 S.F.</text>
<text font-size="58" textLength="220" lengthAdjust="spacingAndGlyphs" transform="translate(930,1815) rotate(90)">18.910AC.</text>
<text font-size="58" textLength="446" lengthAdjust="spacingAndGlyphs" transform="translate(874,1704) rotate(90)">(INC. ACCESS ESM'T)</text>
<text font-size="62" textLength="354" lengthAdjust="spacingAndGlyphs" transform="translate(1522,1829) rotate(90)">ACCESS ESM'T</text>
<text font-size="60" textLength="216" lengthAdjust="spacingAndGlyphs" transform="translate(1461,1896) rotate(90)">9,721 S.F.</text>
<text font-size="62" textLength="245" lengthAdjust="spacingAndGlyphs" transform="translate(1399,1880) rotate(90)">0.223 AC.</text>
<text font-size="56" textLength="152" lengthAdjust="spacingAndGlyphs" transform="translate(387,2251) rotate(90)">P.O.B.</text>
<text font-size="56" textLength="162" lengthAdjust="spacingAndGlyphs" transform="translate(337,2251) rotate(90)">LOT 2</text>
<text class="b" font-size="34" textLength="196" lengthAdjust="spacingAndGlyphs" transform="translate(232,2724) rotate(90)">Rad = 25.00'</text>
<text class="b" font-size="34" textLength="196" lengthAdjust="spacingAndGlyphs" transform="translate(195,2724) rotate(90)">Arc = 39.42'</text>
<text class="b" font-size="34" textLength="196" lengthAdjust="spacingAndGlyphs" transform="translate(158,2724) rotate(90)">Tan = 25.15'</text>
<text class="b" font-size="34" textLength="196" lengthAdjust="spacingAndGlyphs" transform="translate(124,2724) rotate(90)">Chd = 35.46'</text>
<text class="b" font-size="36" textLength="183" lengthAdjust="spacingAndGlyphs" transform="translate(664,2703) rotate(90)">N84°38'59"W</text>
<text class="b" font-size="36" textLength="85" lengthAdjust="spacingAndGlyphs" transform="translate(625,2747) rotate(90)">10.00'</text>
<text font-size="58" textLength="153" lengthAdjust="spacingAndGlyphs" transform="translate(1682,2754) rotate(90)">P.O.B.</text>
<text font-size="56" textLength="222" lengthAdjust="spacingAndGlyphs" transform="translate(1632,2754) rotate(90)">ACCESS</text>
<text font-size="52" textLength="153" lengthAdjust="spacingAndGlyphs" transform="translate(1581,2754) rotate(90)">ESM'T</text>
<text font-size="52" textLength="145" lengthAdjust="spacingAndGlyphs" transform="translate(2362,2338) rotate(90)">P.O.B.</text>
<text font-size="52" textLength="140" lengthAdjust="spacingAndGlyphs" transform="translate(2308,2340) rotate(90)">LOT 1</text>
<text class="b" font-size="38" textLength="181" lengthAdjust="spacingAndGlyphs" transform="translate(2462,2325) rotate(90)">N84°37'17"W</text>
<text class="b" font-size="38" textLength="107" lengthAdjust="spacingAndGlyphs" transform="translate(2427,2366) rotate(90)">30.00'</text>
<text font-size="52" textLength="153" lengthAdjust="spacingAndGlyphs" transform="translate(2368,2697) rotate(90)">P.O.C.</text>
<text font-size="52" textLength="141" lengthAdjust="spacingAndGlyphs" transform="translate(2318,2697) rotate(90)">LOT 1</text>
<text class="b" font-size="38" textLength="168" lengthAdjust="spacingAndGlyphs" transform="translate(2284,1403) rotate(90)">S84°37'17"E</text>
<text class="b" font-size="38" textLength="97" lengthAdjust="spacingAndGlyphs" transform="translate(2284,1673) rotate(90)">1041.14'</text>
<text class="b" font-size="38" textLength="167" lengthAdjust="spacingAndGlyphs" transform="translate(2227,2217) rotate(90)">S84°37'17"E</text>
<text class="b" font-size="38" textLength="110" lengthAdjust="spacingAndGlyphs" transform="translate(2187,2248) rotate(90)">264.26'</text>
<text class="b" font-size="32" textLength="92" lengthAdjust="spacingAndGlyphs" transform="translate(1739,1733) rotate(90)">142.36'</text>
<text class="b" font-size="34" textLength="81" lengthAdjust="spacingAndGlyphs" transform="translate(1855,2095) rotate(90)">10.25'</text>
<text class="b" font-size="34" textLength="51" lengthAdjust="spacingAndGlyphs" transform="translate(548,2558) rotate(90)">40'</text>
</svg>
</body></html>
